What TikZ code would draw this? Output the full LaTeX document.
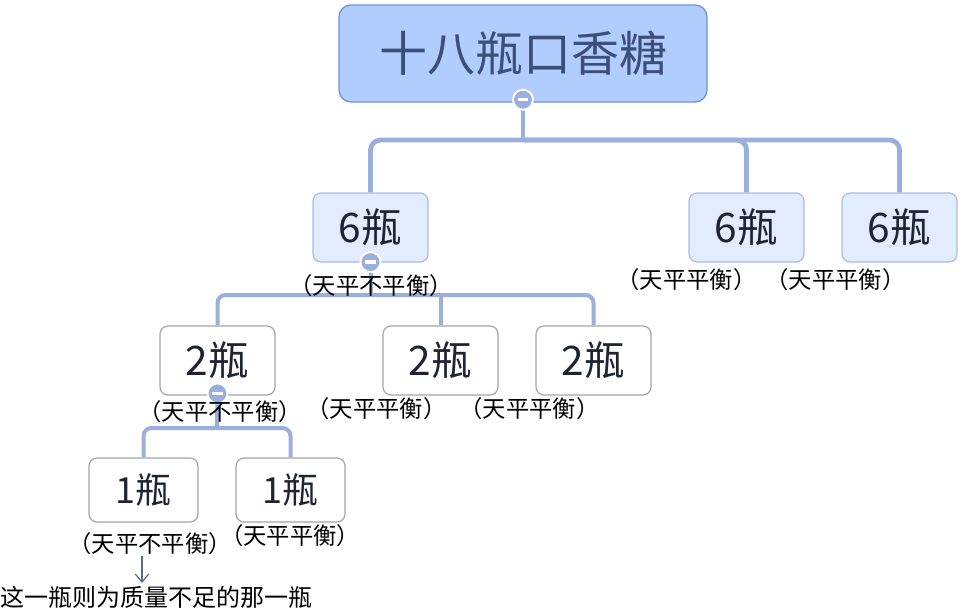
\documentclass[tikz,border=0pt]{standalone}
\usepackage{fontspec}
\setmainfont{Noto Sans CJK SC}
\newfontfamily\lblfont[RawFeature=+halt]{Noto Sans CJK SC}
\usetikzlibrary{arrows.meta,calc}
\definecolor{rootfill}{HTML}{B1CDFD}
\definecolor{rootline}{HTML}{6F93DB}
\definecolor{roottext}{HTML}{3C4F78}
\definecolor{lonefill}{HTML}{E2ECFD}
\definecolor{loneline}{HTML}{A6BCEB}
\definecolor{boxline}{HTML}{A5A5A5}
\definecolor{conncol}{HTML}{9BAFDF}
\definecolor{boxtext}{HTML}{1E2432}
\definecolor{arrcol}{HTML}{5B6F86}
\tikzset{
  rootbox/.style={draw=rootline, fill=rootfill, line width=1pt, rounded corners=9pt,
    minimum width=276pt, minimum height=72.75pt, inner sep=0pt,
    text=roottext, font=\fontsize{36pt}{40pt}\selectfont},
  onebox/.style={draw=loneline, fill=lonefill, line width=0.9pt, rounded corners=6pt,
    minimum width=86.25pt, minimum height=51.75pt, inner sep=0pt,
    text=boxtext, font=\fontsize{30.5pt}{34pt}\selectfont},
  twobox/.style={draw=boxline, fill=white, line width=0.9pt, rounded corners=6pt,
    minimum width=86.25pt, minimum height=51.75pt, inner sep=0pt,
    text=boxtext, font=\fontsize{30.5pt}{34pt}\selectfont},
  threebox/.style={twobox, minimum width=81.75pt, minimum height=48pt,
    font=\fontsize{27pt}{32pt}\selectfont},
  conn/.style={draw=conncol, line width=3.6pt, rounded corners=7.5pt},
  connb/.style={draw=conncol, line width=3pt, rounded corners=6pt},
  lbl/.style={inner sep=0pt, text=black, font=\lblfont\fontsize{17.5pt}{20pt}\selectfont},
  notetext/.style={inner sep=0pt, text=black, font=\fontsize{18pt}{21pt}\selectfont},
  collapse/.style={circle, fill=conncol, draw=white, line width=1.4pt, minimum size=15pt, inner sep=0pt,
    path picture={\draw[white, line width=2.4pt] ($(path picture bounding box.center)+(-3.9pt,0)$) -- ++(7.8pt,0);}},
  arr/.style={draw=arrcol, line width=0.9pt, -{Straight Barb[length=6pt,width=10pt]}}
}
\begin{document}
\begin{tikzpicture}[x=0.75pt, y=-0.75pt]
\useasboundingbox (0,0) rectangle (963,611);

% nodes
\node[rootbox] (root) at (523,53.5) {十八瓶口香糖};
\node[onebox] (A) at (370.5,227.5) {6瓶};
\node[onebox] (B) at (746.5,227.5) {6瓶};
\node[onebox] (C) at (899.5,227.5) {6瓶};
\node[twobox] (D) at (217.5,360.5) {2瓶};
\node[twobox] (E) at (440.5,360.5) {2瓶};
\node[twobox] (F) at (593.5,360.5) {2瓶};
\node[threebox] (G) at (143.5,490) {1瓶};
\node[threebox] (H) at (290.5,490) {1瓶};

% junctions
\coordinate (j0) at (523,140);
\coordinate (j1) at (440.5,295);
\coordinate (j2) at (217,428);

% connectors
\draw[conn] (root.south) -- (j0);
\draw[conn] (j0) -| (A.north);
\draw[conn] (j0) -| (B.north);
\draw[conn] (j0) -| (C.north);
\draw[connb] (A.south) -- (A.south |- j1);
\draw[connb] (A.south |- j1) -| (D.north);
\draw[connb] (A.south |- j1) -| (F.north);
\draw[connb] (j1) -- (E.north);
\draw[connb] (D.south) -- (j2);
\draw[connb] (j2) -| (G.north);
\draw[connb] (j2) -| (H.north);

% collapse buttons
\node[collapse] (cr) at ([yshift=2.2pt]root.south) {};
\node[collapse] (ca) at ([yshift=0.4pt]A.south) {};
\node[collapse] (cd) at ([yshift=1.6pt]D.south) {};

% labels
\node[lbl] (la) at (371,286) {（天平不平衡）};
\node[lbl] (lb) at (686.5,280) {（天平平衡）};
\node[lbl] (lc) at (835.5,280) {（天平平衡）};
\node[lbl] (ld) at (220,412) {（天平不平衡）};
\node[lbl] (le) at (376.5,409) {（天平平衡）};
\node[lbl] (lf) at (529.5,409) {（天平平衡）};
\node[lbl] (lg) at (150,544) {（天平不平衡）};
\node[lbl] (lh) at (290,536) {（天平平衡）};

% note
\node[notetext, anchor=west] (note) at (0,597) {这一瓶则为质量不足的那一瓶};
\coordinate (as) at (142,556);
\coordinate (ae) at (142,583);
\draw[arr] (as) -- (ae);
\end{tikzpicture}
\end{document}
